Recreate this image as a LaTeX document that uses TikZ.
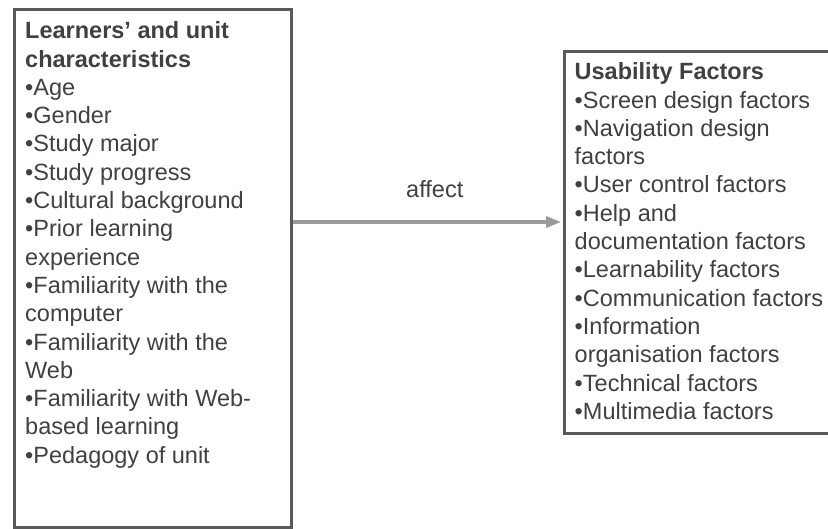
\documentclass[tikz,border=0pt]{standalone}
\usepackage{fontspec}
\setmainfont{Liberation Sans}
\usetikzlibrary{arrows.meta}
\definecolor{txt}{HTML}{404040}
\definecolor{frame}{HTML}{5A5A5A}
\definecolor{arr}{HTML}{9A9A9A}
\begin{document}
\begin{tikzpicture}[x=1pt,y=-1pt,
  box/.style={draw=frame, line width=3pt, inner sep=0pt, anchor=north west},
  txtblock/.style={anchor=north west, inner sep=0pt, align=left, text=txt,
    font=\fontsize{23.5}{28.3}\selectfont},
  lbl/.style={text=txt, inner sep=0pt, font=\fontsize{23.5}{28.3}\selectfont},
  arrowline/.style={draw=arr, line width=3.5pt, -{Triangle[length=15pt,width=11pt]}, shorten >=2pt}]
\useasboundingbox (0,0) rectangle (828,528);
\begin{scope}
\clip (0,0) rectangle (828,528);
\node[box, minimum width=277pt, minimum height=518pt] (L) at (13,8) {};
\node[box, minimum width=280pt, minimum height=382pt] (R) at (563,50) {};
\end{scope}
\node[txtblock] (Ltext) at (25,19.7) {\rule{0pt}{18.8pt}\textbf{Learners’ and unit}\\
\textbf{characteristics}\\
•Age\\
•Gender\\
•Study major\\
•Study progress\\
•Cultural background\\
•Prior learning\\
experience\\
•Familiarity with the\\
computer\\
•Familiarity with the\\
Web\\
•Familiarity with Web-\\
based learning\\
•Pedagogy of unit};
\node[txtblock] (Rtext) at (574.5,60.7) {\rule{0pt}{18.8pt}\textbf{Usability Factors}\\
•Screen design factors\\
•Navigation design\\
factors\\
•User control factors\\
•Help and\\
documentation factors\\
•Learnability factors\\
•Communication factors\\
•Information\\
organisation factors\\
•Technical factors\\
•Multimedia factors};
\coordinate (ay) at (0,222);
\draw[arrowline] (L.east |- ay) -- node[lbl, pos=0.525, anchor=base, yshift=24.5pt] (lab) {affect} (R.west |- ay);
\end{tikzpicture}
\end{document}
